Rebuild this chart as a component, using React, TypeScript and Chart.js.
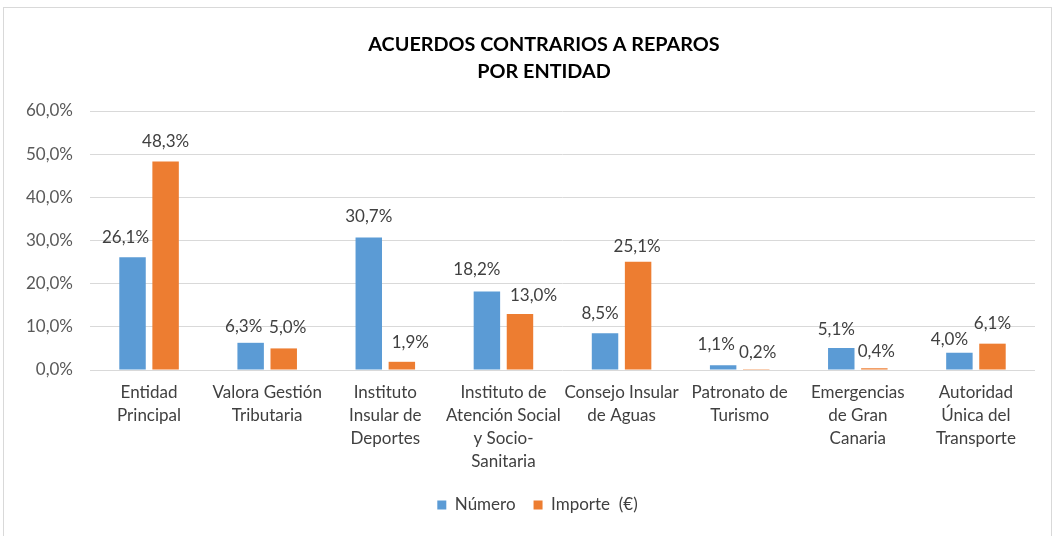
import React, { useEffect, useRef } from "react";
import { Chart, registerables } from "chart.js";
Chart.register(...registerables);

const titleLines = ["ACUERDOS CONTRARIOS A REPAROS", "POR ENTIDAD"];
const categories: string[][] = [
  ["Entidad", "Principal"],
  ["Valora Gestión", "Tributaria"],
  ["Instituto", "Insular de", "Deportes"],
  ["Instituto de", "Atención Social", "y Socio-", "Sanitaria"],
  ["Consejo Insular", "de Aguas"],
  ["Patronato de", "Turismo"],
  ["Emergencias", "de Gran", "Canaria"],
  ["Autoridad", "Única del", "Transporte"],
];
const seriesNames = ["Número", "Importe  (€)"];
const numero = [26.1, 6.3, 30.7, 18.2, 8.5, 1.1, 5.1, 4.0];
const importe = [48.3, 5.0, 1.9, 13.0, 25.1, 0.2, 0.4, 6.1];
const yMin = 0;
const yMax = 60;
const yStep = 10;

// value-label placement tweaks (pixel offsets relative to each bar's top centre)
const labelDx = [
  [-7, -7, 0, -10, -5, -7, -5, -10],
  [0, 4, 8.5, 13.5, -1, 1.5, 2, 0],
];
const labelGap = [
  [20, 16, 21, 22, 20, 21, 18, 13],
  [20, 21, 19, 18, 15, 17, 17, 20],
];

const FONT = "Lato, 'Open Sans', sans-serif";
const fmt = (v: number) => v.toFixed(1).replace(".", ",") + "%";

const labelsPlugin = {
  id: "customLabels",
  beforeDraw(chart: any) {
    if (chart.legend) chart.legend.left = 40;
  },
  afterDatasetsDraw(chart: any) {
    const ctx = chart.ctx;
    ctx.save();
    ctx.font = `17px ${FONT}`;
    ctx.fillStyle = "#404040";
    ctx.textAlign = "center";
    ctx.textBaseline = "middle";
    chart.data.datasets.forEach((ds: any, i: number) => {
      const meta = chart.getDatasetMeta(i);
      meta.data.forEach((el: any, j: number) => {
        ctx.fillText(fmt(ds.data[j]), el.x + labelDx[i][j], el.y - labelGap[i][j]);
      });
    });
    ctx.restore();
  },
  afterDraw(chart: any) {
    const ctx = chart.ctx;
    ctx.save();
    ctx.font = `bold 19.8px ${FONT}`;
    ctx.fillStyle = "#000000";
    ctx.textAlign = "center";
    ctx.textBaseline = "middle";
    ctx.fillText(titleLines[0], 544, 45);
    ctx.fillText(titleLines[1], 544, 72);
    ctx.restore();
  },
};

export default function App() {
  const ref = useRef<HTMLCanvasElement>(null);
  useEffect(() => {
    if (!ref.current) return;
    const chart = new Chart(ref.current, {
      type: "bar",
      data: {
        labels: categories,
        datasets: [
          {
            label: seriesNames[0],
            data: numero,
            backgroundColor: "#5B9BD5",
            borderWidth: 0,
            categoryPercentage: 0.56,
            barPercentage: 0.8,
          },
          {
            label: seriesNames[1],
            data: importe,
            backgroundColor: "#ED7D31",
            borderWidth: 0,
            categoryPercentage: 0.56,
            barPercentage: 0.8,
          },
        ],
      },
      options: {
        responsive: false,
        animation: false,
        devicePixelRatio: 1,
        layout: { padding: { top: 111, right: 20, bottom: 12.5, left: 0 } },
        plugins: {
          title: { display: false },
          tooltip: { enabled: false },
          legend: {
            position: "bottom",
            labels: {
              boxWidth: 9,
              boxHeight: 9,
              padding: 18,
              color: "#404040",
              font: { family: FONT, size: 17 },
            },
          },
        },
        scales: {
          x: {
            grid: { display: false, drawTicks: false },
            border: { display: false },
            ticks: {
              color: "#404040",
              font: { family: FONT, size: 17, lineHeight: 1.35 },
              padding: 11,
              maxRotation: 0,
              autoSkip: false,
            },
            afterFit: (s: any) => {
              s.height = 108.5;
            },
          },
          y: {
            min: yMin,
            max: yMax,
            grid: { color: "#D9D9D9", lineWidth: 1, drawTicks: false },
            border: { display: false },
            ticks: {
              stepSize: yStep,
              color: "#595959",
              font: { family: FONT, size: 17 },
              padding: 17,
              callback: (v: any) => fmt(Number(v)),
            },
            afterFit: (s: any) => {
              s.width = 90;
            },
          },
        },
      },
      plugins: [labelsPlugin],
    });
    return () => chart.destroy();
  }, []);
  return (
    <div style={{ position: "fixed", left: 0, top: 0, width: 1055, height: 536, background: "#fff" }}>
      <canvas ref={ref} width={1055} height={536} style={{ position: "absolute", left: 0, top: 0, width: 1055, height: 536 }} />
      <div style={{ position: "absolute", left: 3, top: 7, width: 1047, height: 530, border: "1px solid #D9D9D9", pointerEvents: "none" }} />
    </div>
  );
}
